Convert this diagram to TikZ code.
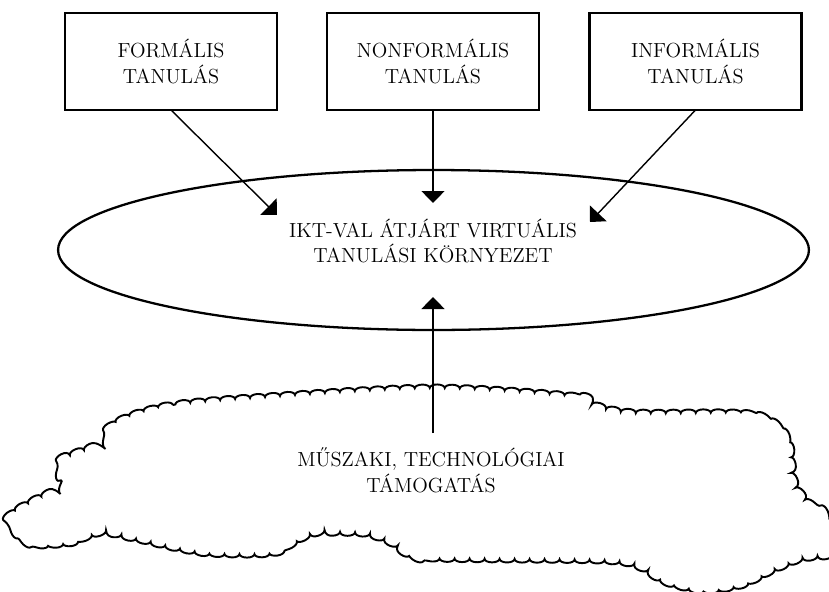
\documentclass[tikz,border=0pt]{standalone}
\usepackage{tikz}
\usetikzlibrary{shapes.geometric, arrows.meta, positioning, decorations.pathmorphing}

\begin{document}
\begin{tikzpicture}[
    x=0.02cm, y=-0.02cm,
    font=\fontsize{11.6}{14.7}\selectfont,
    box/.style={rectangle, draw, line width=1.6pt, minimum width=4.24cm, minimum height=1.94cm, align=center, inner sep=0pt, outer sep=0pt},
    arrow/.style={-{Triangle[width=0.46cm, length=0.24cm]}, line width=0.8pt},
    cloudline/.style={line width=1.1pt, decorate, decoration={bumps, mirror, segment length=0.6cm, amplitude=2pt}}
]
\useasboundingbox (0,0) rectangle (829,592);

\node[box] (formal) at (171,61.5) {FORMÁLIS\\TANULÁS};
\node[box] (nonformal) at (433,61.5) {NONFORMÁLIS\\TANULÁS};
\node[box] (informal) at (695.5,61.5) {INFORMÁLIS\\TANULÁS};

\node[ellipse, draw, line width=1.3pt, minimum width=15.02cm, minimum height=3.2cm, inner sep=0pt] (ikt) at (433.5,250) {};
\node[align=center] (iktlabel) at (433,241) {IKT-VAL ÁTJÁRT VIRTUÁLIS\\TANULÁSI KÖRNYEZET};

% the cloud
\draw[cloudline] plot[smooth cycle, tension=0.5] coordinates {
    (250,398) (173,405) (133,415) (110,427) (105,440) (83,450) (68,455)
    (61,467) (66,479) (58,488) (40,497) (13,513) (13,527) (30,543) (67,543)
    (100,533) (133,538) (173,547) (210,553) (270,553) (298,540) (318,533)
    (360,533) (385,540) (405,552) (435,558) (597,560) (637,566) (662,580)
    (700,590) (740,585) (773,570) (800,559) (827,553) (828,520) (810,503)
    (797,487) (792,463) (790,447) (782,430) (762,417) (730,413) (640,413)
    (605,408) (580,397) (433,388)};
\node[align=center] (support) at (431,470) {MŰSZAKI, TECHNOLÓGIAI\\TÁMOGATÁS};

\coordinate (tip1) at (277,215);
\coordinate (tip2) at (433,203);
\coordinate (tip3) at (590,222);
\coordinate (tip4) at (433,297);
\coordinate (base4) at (433,433);

\draw[arrow] (formal.south) -- (tip1);
\draw[arrow] (nonformal.south) -- (tip2);
\draw[arrow] (informal.south) -- (tip3);
\draw[arrow] (base4) -- (tip4);

\end{tikzpicture}
\end{document}
